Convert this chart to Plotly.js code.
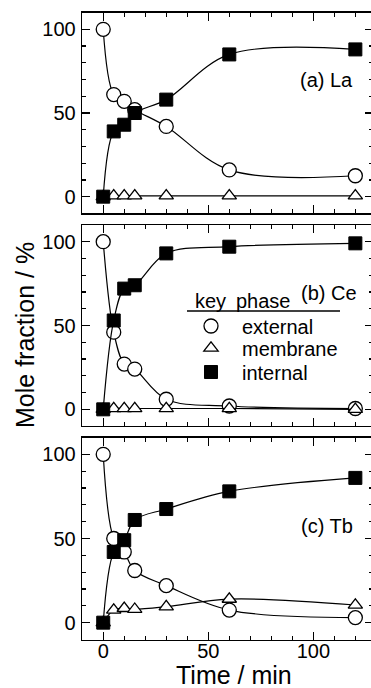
<!DOCTYPE html>
<html><head><meta charset="utf-8">
<script src="https://cdn.plot.ly/plotly-3.0.1.min.js"></script>
<style>html,body{margin:0;padding:0;overflow:hidden;background:#fff}</style>
</head><body><div id="chart" style="width:376px;height:688px"></div>
<script>
const time = [0, 5, 10, 15, 30, 60, 120];
const La_external = [100, 61, 57, 52, 42, 16, 12.5];
const La_membrane = [0, 0.5, 0.5, 0.5, 0.5, 0.5, 0.5];
const La_internal = [0, 39, 43, 50, 58, 85, 88];
const Ce_external = [100, 46, 27, 24, 6, 2, 0.5];
const Ce_membrane = [0, 0.5, 0.5, 0.5, 0.5, 0.5, 0];
const Ce_internal = [0, 53, 72, 74, 93, 97, 99];
const Tb_external = [100, 50, 42, 31, 22, 7.5, 3];
const Tb_membrane = [0, 7.5, 8.5, 8, 9.5, 14, 10.5];
const Tb_internal = [0, 42, 49, 61, 67.5, 78, 86];
const panelLabels = ['(a) La', '(b) Ce', '(c) Tb'];
const phaseNames = ['external', 'membrane', 'internal'];
const xTickVals = [0, 50, 100];
const yTickVals = [0, 50, 100];

const W = 376, H = 688, L = 82, R = 3;
const FONT = '"Liberation Sans", Arial, Helvetica, sans-serif';
function px(p) { return (p - L) / (W - L - R); }
function py(p) { return 1 - p / H; }

const panels = [
  {ext: La_external, mem: La_membrane, int: La_internal, top: 12.6, bot: 213.4, labelY: 80, labelX: 355},
  {ext: Ce_external, mem: Ce_membrane, int: Ce_internal, top: 224.9, bot: 426.1, labelY: 293, labelX: 359},
  {ext: Tb_external, mem: Tb_membrane, int: Tb_internal, top: 437.5, bot: 639.5, labelY: 526, labelX: 355}
];

const lineStyle = {shape: 'spline', smoothing: 1, color: 'black', width: 1.2};
const styles = {
  external: {symbol: 'circle', size: 14, color: 'white', line: {color: 'black', width: 1.3}},
  membrane: {symbol: 'triangle-up', size: 12.5, color: 'white', line: {color: 'black', width: 1.3}},
  internal: {symbol: 'square', size: 13, color: 'black', line: {color: 'black', width: 1}}
};

const data = [];
const layout = {
  width: W, height: H,
  margin: {l: L, r: R, t: 0, b: 0},
  paper_bgcolor: 'white', plot_bgcolor: 'white',
  font: {family: FONT, size: 20, color: 'black'},
  showlegend: true,
  annotations: [], shapes: []
};

panels.forEach((p, i) => {
  const n = i + 1;
  const xa = n === 1 ? 'x' : 'x' + n, ya = n === 1 ? 'y' : 'y' + n;
  [['external', p.ext], ['membrane', p.mem], ['internal', p.int]].forEach(([k, vals]) => {
    data.push({x: time, y: vals, xaxis: xa, yaxis: ya, mode: 'lines+markers', type: 'scatter',
      line: lineStyle, marker: styles[k], showlegend: false, cliponaxis: false});
  });
  const axCommon = {
    showline: true, linecolor: 'black', linewidth: 1.3, mirror: 'ticks',
    ticks: 'inside', ticklen: 8, tickwidth: 1.3, tickcolor: 'black',
    showgrid: false, zeroline: false, fixedrange: true,
    tickfont: {family: FONT, size: 20, color: 'black'},
    minor: {dtick: 10, ticks: 'inside', ticklen: 4, tickwidth: 1.2, tickcolor: 'black', showgrid: false}
  };
  layout['xaxis' + (n === 1 ? '' : n)] = Object.assign({}, axCommon, {
    range: [-10.1, 128.4], anchor: ya, tickvals: xTickVals, tick0: 0, dtick: 50,
    showticklabels: n === 3, ticklabelstandoff: -7
  });
  layout['yaxis' + (n === 1 ? '' : n)] = Object.assign({}, axCommon, {
    range: [-10, 110], anchor: xa, tickvals: yTickVals, tick0: 0, dtick: 50,
    domain: [py(p.bot), py(p.top)], ticklabelstandoff: 1
  });
  layout.annotations.push({text: panelLabels[i], xref: 'paper', yref: 'paper',
    x: px(p.labelX), y: py(p.labelY), xanchor: 'right', yanchor: 'middle', showarrow: false,
    font: {family: FONT, size: 20}});
});

// legend entries (one legend per phase, for exact placement)
const legY = [326, 348, 372];
phaseNames.forEach((k, i) => {
  const lg = i === 0 ? 'legend' : 'legend' + (i + 1);
  data.push({x: [null], y: [null], xaxis: 'x2', yaxis: 'y2', mode: 'markers', type: 'scatter',
    name: k, marker: styles[k], legend: lg, showlegend: true});
  layout[lg] = {x: px(180), y: py(legY[i]), xanchor: 'left', yanchor: 'middle',
    bgcolor: 'rgba(0,0,0,0)', borderwidth: 0, itemwidth: 52,
    font: {family: FONT, size: 20, color: 'black'}, itemclick: false, itemdoubleclick: false};
});
layout.annotations.push(
  {text: 'key', xref: 'paper', yref: 'paper', x: px(193), y: py(301), xanchor: 'left', yanchor: 'middle', showarrow: false},
  {text: 'phase', xref: 'paper', yref: 'paper', x: px(234), y: py(301), xanchor: 'left', yanchor: 'middle', showarrow: false},
  {text: 'Mole fraction / %', xref: 'paper', yref: 'paper', x: px(25), y: py(335), textangle: -90,
    xanchor: 'center', yanchor: 'middle', showarrow: false, font: {family: FONT, size: 25}},
  {text: 'Time / min', xref: 'paper', yref: 'paper', x: px(234), y: py(675),
    xanchor: 'center', yanchor: 'middle', showarrow: false, font: {family: FONT, size: 25}}
);
layout.shapes.push({type: 'line', xref: 'paper', yref: 'paper', x0: px(187), x1: px(340),
  y0: py(311), y1: py(311), line: {color: 'black', width: 1.3}});

Plotly.newPlot('chart', data, layout, {displayModeBar: false, staticPlot: true});
</script></body></html>
